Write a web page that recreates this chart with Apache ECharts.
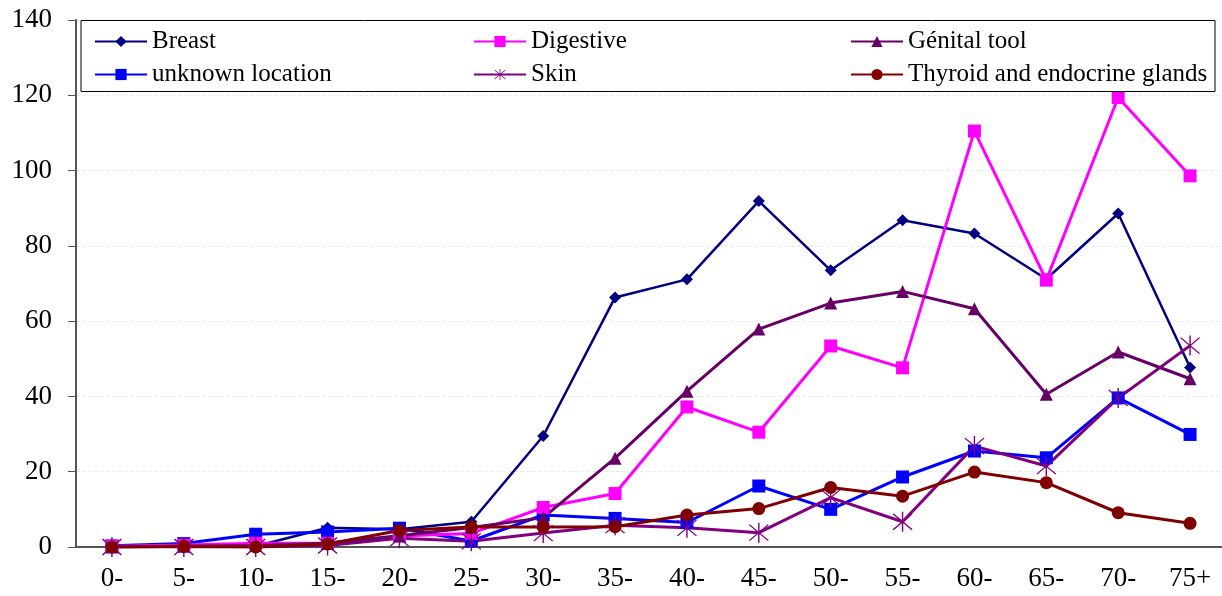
<!DOCTYPE html>
<html>
<head>
<meta charset="utf-8">
<style>html,body{margin:0;padding:0;background:#fff;overflow:hidden;width:1222px;height:596px;}#chart{width:1230px;height:596px;}</style>
<script src="https://cdn.jsdelivr.net/npm/echarts@6/dist/echarts.min.js"></script>
</head>
<body>
<div id="chart"></div>
<script>
const categories = ['0-','5-','10-','15-','20-','25-','30-','35-','40-','45-','50-','55-','60-','65-','70-','75+'];
const breast     = [0.3, 0.5, 0.2, 5.1, 4.7, 6.7, 29.5, 66.3, 71.1, 91.9, 73.5, 86.8, 83.3, 71.2, 88.6, 47.7];
const digestive  = [0.2, 0.5, 1.0, 1.0, 2.9, 3.6, 10.5, 14.2, 37.2, 30.5, 53.4, 47.6, 110.5, 70.9, 119.4, 98.6];
const genital    = [0.0, 0.2, 0.4, 1.0, 3.0, 5.2, 7.8, 23.6, 41.4, 57.9, 64.8, 67.9, 63.3, 40.6, 51.8, 44.7];
const unknown    = [0.3, 0.9, 3.4, 4.0, 5.0, 1.6, 8.5, 7.6, 6.5, 16.2, 10.0, 18.6, 25.5, 23.7, 39.6, 29.9];
const skin       = [0.0, 0.0, 0.0, 0.4, 2.3, 1.5, 3.7, 5.8, 5.1, 3.8, 13.1, 6.7, 26.8, 21.5, 39.6, 53.5];
const thyroid    = [0.0, 0.2, 0.0, 0.8, 4.4, 5.3, 5.3, 5.4, 8.5, 10.2, 15.8, 13.5, 19.9, 17.1, 9.1, 6.3];
const yTicks = [0, 20, 40, 60, 80, 100, 120, 140];

const FONT = 'Liberation Serif';
const asterisk = 'path://M9.4 0 L10.6 0 L10.6 20 L9.4 20 Z M2.42 1.58 L18.42 17.58 L17.58 18.42 L1.58 2.42 Z M18.42 2.42 L2.42 18.42 L1.58 17.58 L17.58 1.58 Z';

function mk(name, data, color, symbol, size, width) {
  return {
    name, type: 'line', data, symbol, symbolSize: size,
    lineStyle: { color, width: width },
    itemStyle: { color, borderWidth: 0 },
    emphasis: { disabled: true },
    animation: false
  };
}

const chart = echarts.init(document.getElementById('chart'), null, { renderer: 'canvas' });
const legendCommon = {
  orient: 'vertical', top: 24, itemWidth: 52, itemHeight: 14, itemGap: 8,
  textStyle: { fontFamily: FONT, fontSize: 25, color: '#000' },
  z: 10, selectedMode: false
};
chart.setOption({
  backgroundColor: '#fff',
  animation: false,
  grid: { left: 76, right: 4, top: 20, bottom: 49 },
  graphic: [{
    type: 'rect', z: 5, silent: true,
    shape: { x: 81, y: 20.5, width: 1134, height: 71 },
    style: { fill: '#fff', stroke: '#000', lineWidth: 1 }
  }],
  legend: [
    Object.assign({ left: 89, data: ['Breast', 'unknown location'] }, legendCommon),
    Object.assign({ left: 468, data: ['Digestive', 'Skin'] }, legendCommon),
    Object.assign({ left: 845, data: ['Génital tool', 'Thyroid and endocrine glands'] }, legendCommon)
  ],
  xAxis: {
    type: 'category', data: categories, boundaryGap: true,
    axisLine: { lineStyle: { color: '#555', width: 2 } },
    axisTick: { alignWithLabel: false, length: 7, lineStyle: { color: '#555', width: 1 } },
    axisLabel: { fontFamily: FONT, fontSize: 27, color: '#000', margin: 18 },
    splitLine: { show: false }
  },
  yAxis: {
    type: 'value', min: 0, max: 140, interval: 20,
    axisLine: { show: true, lineStyle: { color: '#555', width: 2 } },
    axisTick: { show: true, length: 8, lineStyle: { color: '#555', width: 1 } },
    axisLabel: { fontFamily: FONT, fontSize: 27, color: '#000', margin: 24,
      formatter: v => yTicks.includes(v) ? String(v) : '' },
    splitLine: { show: true, lineStyle: { color: '#e8ebf6', width: 1, type: 'dashed' } }
  },
  series: [
    mk('Breast', breast, '#000080', 'diamond', 12, 2.5),
    mk('unknown location', unknown, '#0000ff', 'rect', 13, 3),
    mk('Digestive', digestive, '#ff00ff', 'rect', 13, 3),
    mk('Skin', skin, '#800080', asterisk, 20, 3),
    mk('Génital tool', genital, '#660066', 'triangle', 13, 3),
    mk('Thyroid and endocrine glands', thyroid, '#800000', 'circle', 13, 3)
  ]
});
</script>
</body>
</html>
